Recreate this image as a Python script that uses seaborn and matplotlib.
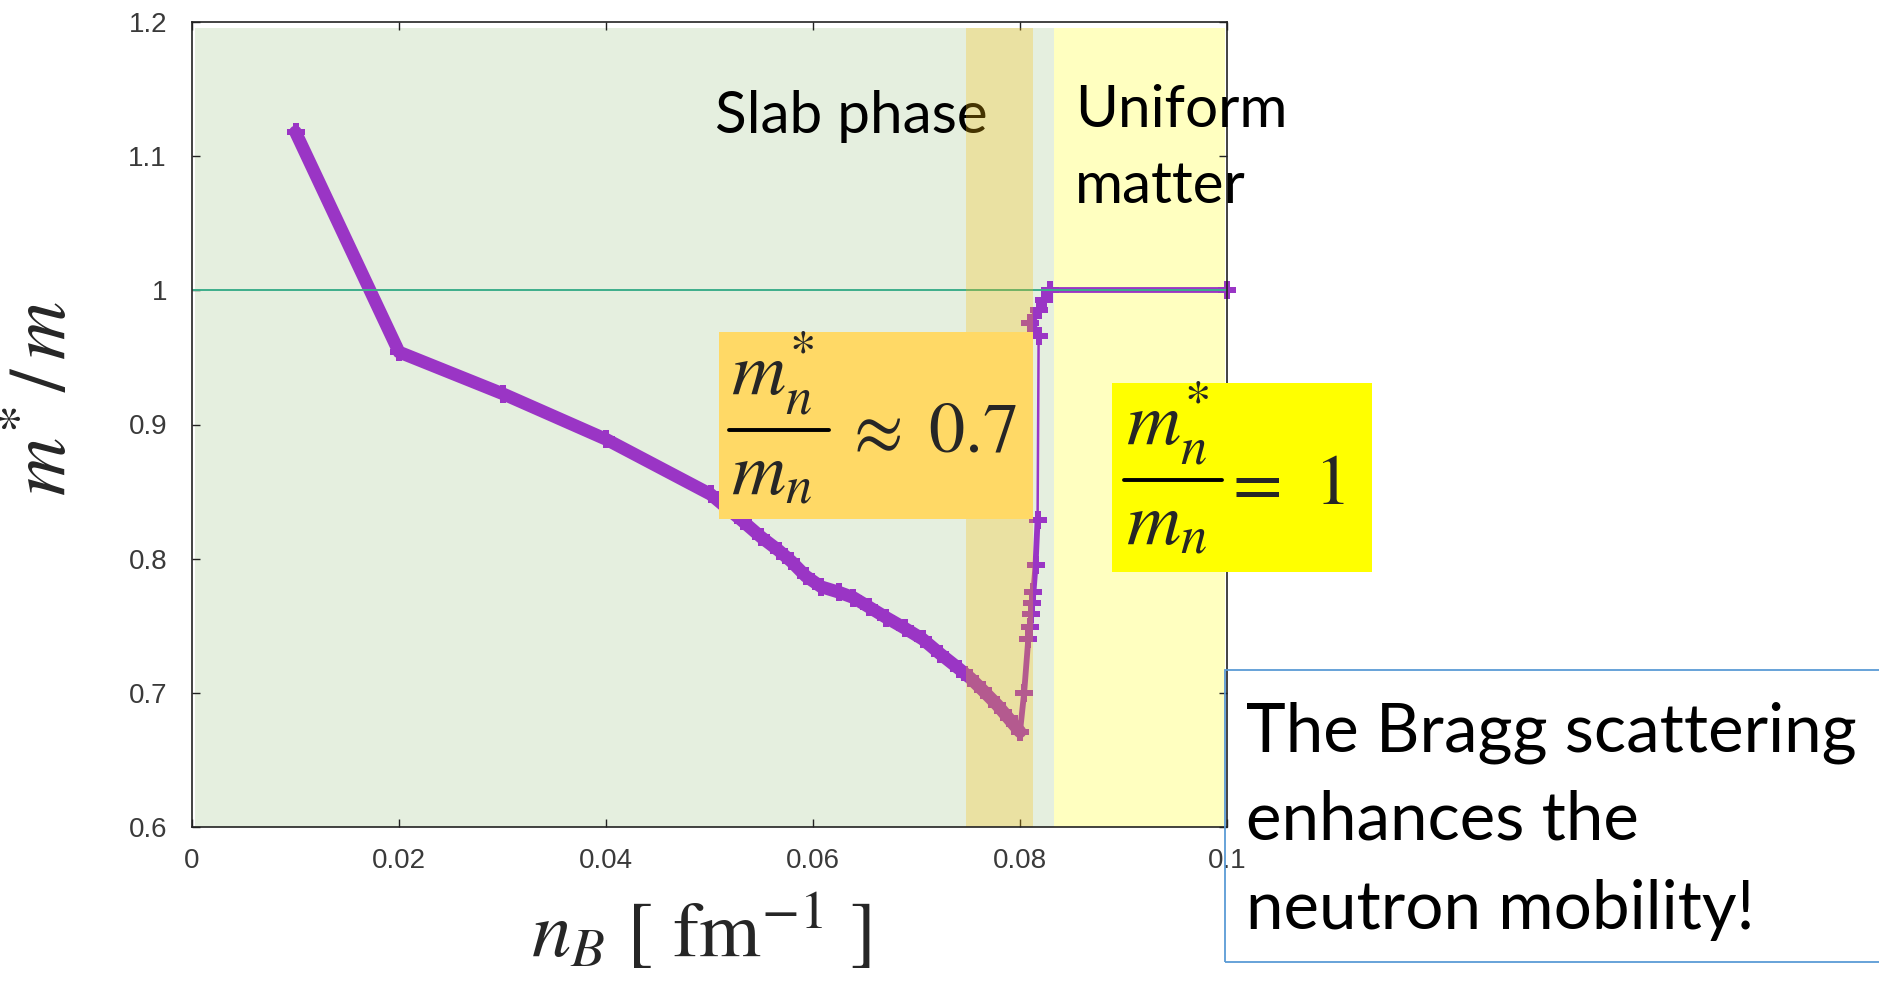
import matplotlib
matplotlib.use("Agg")
import matplotlib.pyplot as plt
from matplotlib.patches import Rectangle
from matplotlib.lines import Line2D
import seaborn as sns

# Baryon density n_B [fm^-1] and neutron effective-mass ratio m*/m
nB = [0.0100, 0.0200, 0.0300, 0.0400, 0.0501, 0.0532, 0.0550, 0.0567, 0.0579,
      0.0593, 0.0608, 0.0625, 0.0639, 0.0654, 0.0671, 0.0689, 0.0706, 0.0723,
      0.0741, 0.0752, 0.0764, 0.0778, 0.0789, 0.0800, 0.0804, 0.0808, 0.0810,
      0.0811, 0.0812, 0.0813, 0.0815, 0.0817, 0.0818, 0.0810, 0.0818, 0.0823,
      0.0829, 0.1000]
mass_ratio = [1.118, 0.954, 0.923, 0.889, 0.848, 0.828, 0.816, 0.806, 0.798,
              0.787, 0.779, 0.775, 0.771, 0.764, 0.756, 0.748, 0.740, 0.729,
              0.718, 0.711, 0.702, 0.691, 0.681, 0.671, 0.700, 0.740, 0.749,
              0.759, 0.767, 0.775, 0.795, 0.829, 0.966, 0.976, 0.985, 0.993,
              1.000, 1.000]

free_mass = 1.0                     # reference line m*/m = 1
slab_band = (0.0748, 0.0813)        # slab-phase highlight
uniform_band = (0.0833, 0.0998)     # uniform-matter region

x_ticks = [0, 0.02, 0.04, 0.06, 0.08, 0.1]
x_tick_labels = ["0", "0.02", "0.04", "0.06", "0.08", "0.1"]
y_ticks = [0.6, 0.7, 0.8, 0.9, 1.0, 1.1, 1.2]
y_tick_labels = ["0.6", "0.7", "0.8", "0.9", "1", "1.1", "1.2"]

sns.set_style("ticks")
plt.rcParams["font.family"] = ["Lato", "DejaVu Sans"]
plt.rcParams["mathtext.fontset"] = "stix"

W, H = 1879, 983
fig = plt.figure(figsize=(W / 100, H / 100), dpi=100)
ax = fig.add_axes([192 / W, 1 - 827 / H, (1227 - 192) / W, (827 - 22) / H])
ax.set_facecolor("white")


def fx(px):
    return px / W


def fy(py):
    return 1 - py / H


# background regions
ax.axvspan(0.0003, uniform_band[1], ymin=0.0, ymax=0.993, color="#E5EFDF", lw=0, zorder=0)
ax.axvspan(*uniform_band, ymin=0.0, ymax=0.993, color="#FFFFC0", lw=0, zorder=0.5)

# curve drawn piecewise: dense descending branch, rise, jump, plateau
purple = "#9A35C5"
segments = [(0, 24, 9.2), (23, 32, 4.2), (31, 33, 1.8), (32, 37, 5.5), (36, 38, 4.2)]
for i0, i1, lw in segments:
    sns.lineplot(x=nB[i0:i1], y=mass_ratio[i0:i1], sort=False, estimator=None,
                 color=purple, lw=lw, marker="P", markersize=13,
                 markeredgewidth=0, ax=ax, zorder=2, clip_on=False)

ax.axhline(free_mass, color="#3DAE8A", lw=1.4, zorder=3)

# region labels
ax.text(fx(715), fy(133), "Slab phase", transform=fig.transFigure, fontsize=42,
        color="black", va="baseline", ha="left", zorder=3)
ax.text(fx(1075), fy(127), "Uniform", transform=fig.transFigure, fontsize=42,
        color="black", va="baseline", ha="left", zorder=6)
ax.text(fx(1075), fy(203), "matter", transform=fig.transFigure, fontsize=42,
        color="black", va="baseline", ha="left", zorder=6)

# translucent slab-phase band over the curve
ax.axvspan(*slab_band, ymin=0.0, ymax=0.993, color="#FABD05", alpha=0.28, lw=0, zorder=4)

ax.set_xlim(0, 0.1)
ax.set_ylim(0.6, 1.2)
ax.set_xticks(x_ticks)
ax.set_xticklabels(x_tick_labels)
ax.set_yticks(y_ticks)
ax.set_yticklabels(y_tick_labels)
ax.tick_params(direction="in", length=6, width=1, top=True, right=True,
               labelsize=20, labelcolor="#3A3A3A", color="#222222")
ax.tick_params(axis="x", pad=15)
ax.tick_params(axis="y", pad=18)
for lab in ax.get_xticklabels() + ax.get_yticklabels():
    lab.set_family(["Liberation Sans", "DejaVu Sans"])
for s in ax.spines.values():
    s.set_visible(True)
    s.set_color("#222222")
    s.set_linewidth(1.2)
    s.set_zorder(5)

ax.set_xlabel(r"$n_B\ [\ \mathrm{fm}^{-1}\ ]$", fontsize=57, va="top")
ax.xaxis.set_label_coords((701 - 192) / 1035, (827 - 890) / 805)
ax.set_ylabel(r"$m^{*}\,/\,m$", fontsize=58)
ax.yaxis.set_label_coords((80 - 192) / 1035, (827 - 398) / 805)


def stacked_fraction(bar_x0, bar_x1, bar_y, size):
    """m_n^* over m_n written as a stacked fraction around a drawn bar."""
    fig.text(fx(bar_x0 + 2), fy(bar_y - 35), r"$m_n^{*}$", ha="left",
             va="baseline", fontsize=size, zorder=6)
    fig.add_artist(Line2D([fx(bar_x0), fx(bar_x1)], [fy(bar_y), fy(bar_y)],
                          transform=fig.transFigure, color="black", lw=2.8,
                          zorder=6))
    fig.text(fx(bar_x0 + 2), fy(bar_y + 65), r"$m_n$", ha="left",
             va="baseline", fontsize=size, zorder=6)


# annotation boxes
fig.add_artist(Rectangle((fx(719), fy(519)), (1033 - 719) / W, (519 - 332) / H,
                         transform=fig.transFigure, facecolor="#FFD966",
                         edgecolor="none", zorder=5))
stacked_fraction(729, 829, 430, 54)
fig.text(fx(843), fy(452), r"$\approx$", ha="left", va="baseline", fontsize=52, zorder=6)
fig.text(fx(928), fy(452), r"$0.7$", ha="left", va="baseline", fontsize=52, zorder=6)

fig.add_artist(Rectangle((fx(1112), fy(572)), (1372 - 1112) / W, (572 - 383) / H,
                         transform=fig.transFigure, facecolor="#FFFF00",
                         edgecolor="none", zorder=5))
stacked_fraction(1124, 1222, 480, 54)
fig.text(fx(1222), fy(504), r"$=$", ha="left", va="baseline", fontsize=52, zorder=6)
fig.text(fx(1314), fy(504), r"$1$", ha="left", va="baseline", fontsize=52, zorder=6)

fig.add_artist(Rectangle((fx(1225), fy(962)), (1900 - 1225) / W, (962 - 670) / H,
                         transform=fig.transFigure, facecolor="none",
                         edgecolor="#5B9BD5", lw=1.3, zorder=5))
for txt, base in [("The Bragg scattering", 751), ("enhances the", 840),
                  ("neutron mobility!", 929)]:
    fig.text(fx(1246), fy(base), txt, ha="left", va="baseline", fontsize=48.5,
             color="black", zorder=6)

fig.savefig("out.png", dpi=100)
